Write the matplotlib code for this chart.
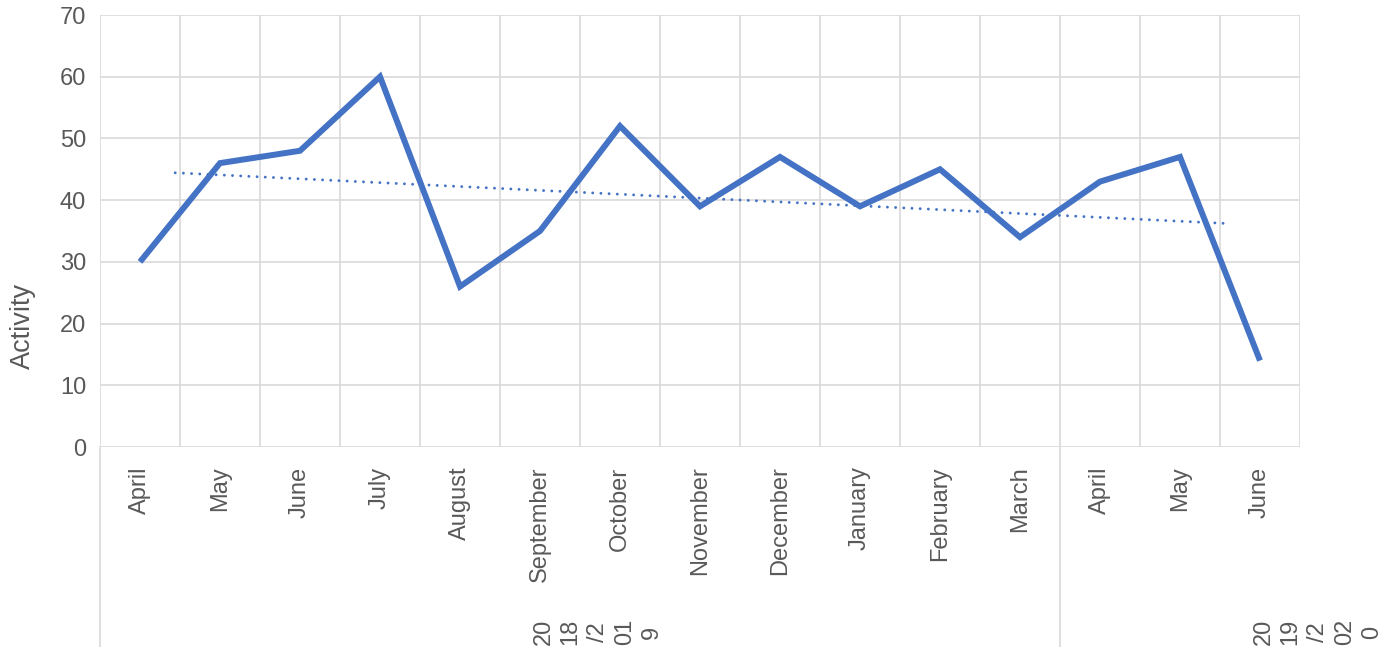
import numpy as np
import matplotlib
matplotlib.use("Agg")
import matplotlib.pyplot as plt
from matplotlib import transforms
from matplotlib.lines import Line2D

months = ["April", "May", "June", "July", "August", "September", "October",
          "November", "December", "January", "February", "March",
          "April", "May", "June"]
activity = [30, 46, 48, 60, 26, 35, 52, 39, 47, 39, 45, 34, 43, 47, 14]
groups = ["2018/2019", "2019/2020"]
group_spans = [(0, 11), (12, 14)]
y_ticks = [0, 10, 20, 30, 40, 50, 60, 70]

BLUE = "#4472C4"
GRID = "#d9d9d9"
TXT = "#595959"
FS = 17
plt.rcParams["font.family"] = ["Liberation Sans", "DejaVu Sans"]

W, H = 1383, 647
fig = plt.figure(figsize=(W / 100, H / 100), dpi=100)
ax = fig.add_axes([100 / W, (H - 447) / H, 1200 / W, 432 / H])

x = np.arange(len(months))
ax.plot(x, activity, color=BLUE, lw=4.3, solid_joinstyle="miter",
        solid_capstyle="butt", zorder=3)

# linear trendline
k, b = np.polyfit(x, activity, 1)
tx = np.array([0.44, 13.55])
ax.plot(tx, k * tx + b, color=BLUE, lw=2.1, linestyle=(0, (0.01, 2.8)),
        dash_capstyle="round", zorder=2)

ax.set_xlim(-0.5, len(months) - 0.5)
ax.set_ylim(0, 70)
ax.set_yticks(y_ticks)
ax.set_xticks(x)
ax.set_xticklabels(months, rotation=90, va="top", ha="center")
ax.set_xticks(np.arange(-0.5, len(months), 1), minor=True)
ax.tick_params(axis="both", length=0, colors=TXT, labelsize=FS)
ax.tick_params(axis="y", pad=10)
ax.tick_params(axis="x", pad=14)
ax.tick_params(which="minor", length=0)
ax.grid(axis="y", which="major", color=GRID, lw=1.2)
ax.grid(axis="x", which="minor", color=GRID, lw=1.2)
ax.grid(axis="x", which="major", visible=False)
for s in ax.spines.values():
    s.set_visible(False)
ax.set_axisbelow(True)

# second level category axis
tr = transforms.blended_transform_factory(ax.transData, ax.transAxes)
for pos in [-0.5, group_spans[1][0] - 0.5]:
    ax.add_line(Line2D([pos, pos], [0, -200 / 432], transform=tr, color=GRID,
                       lw=1.2, clip_on=False))

group_x = [5.72, 14.72]
for g, gx in zip(groups, group_x):
    wrapped = "\n".join(g[i:i + 2] for i in range(0, len(g), 2))
    ax.text(gx, -(632 - 447) / 432, wrapped, transform=tr, rotation=90,
            ha="center", va="center", multialignment="center",
            fontsize=FS, color=TXT, linespacing=1.3, clip_on=False)

fig.text(23 / W, 1 - 326 / H, "Activity", rotation=90, ha="center",
         va="center", fontsize=19.5, color=TXT)

fig.savefig("out.png", dpi=100)
